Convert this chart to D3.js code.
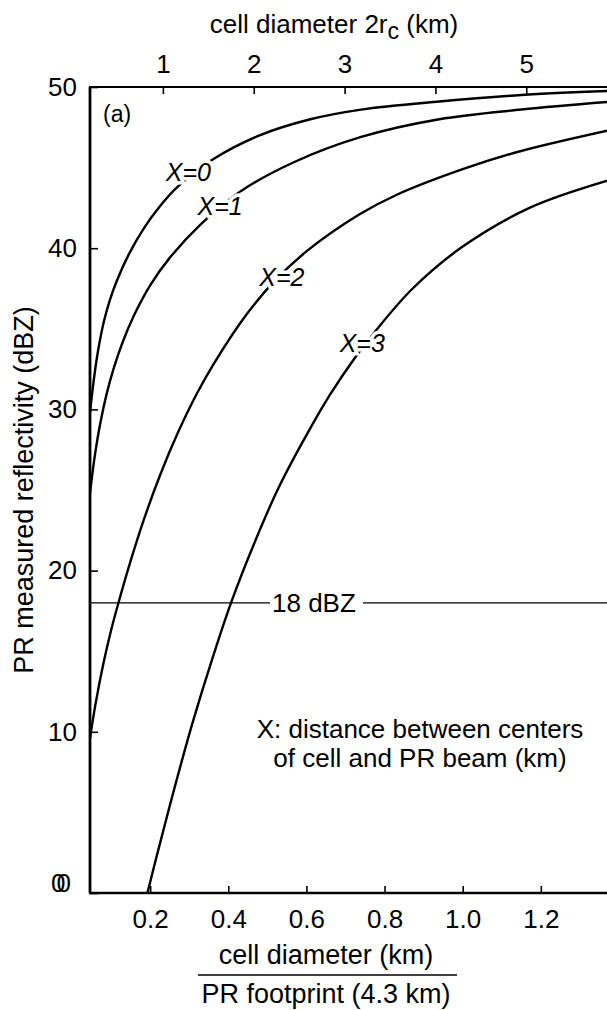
<!DOCTYPE html>
<html>
<head>
<meta charset="utf-8">
<script src="https://cdn.jsdelivr.net/npm/d3@7"></script>
<style>
  body { margin: 0; background: #fff; }
  svg { display: block; font-family: "Liberation Sans", Arial, Helvetica, sans-serif; }
</style>
</head>
<body>
<div id="chart"></div>
<script>
// cell diameter / PR footprint  vs  PR measured reflectivity (dBZ)
var ratioX0 = [0.046, 0.052, 0.06, 0.07, 0.082, 0.097, 0.115, 0.145, 0.183, 0.225, 0.27, 0.36, 0.48, 0.61, 0.74, 0.94, 1.15, 1.372];
var dbzX0   = [29.8, 31.1, 32.6, 34.1, 35.5, 36.8, 38.0, 39.6, 41.2, 42.6, 43.8, 45.5, 47.0, 48.0, 48.6, 49.1, 49.5, 49.75];

var ratioX1 = [0.046, 0.052, 0.06, 0.072, 0.088, 0.106, 0.13, 0.16, 0.2, 0.25, 0.33, 0.43, 0.565, 0.74, 0.94, 1.15, 1.372];
var dbzX1   = [24.8, 26.0, 27.4, 29.1, 30.9, 32.5, 34.2, 35.9, 37.7, 39.4, 41.5, 43.5, 45.3, 46.9, 48.0, 48.6, 49.07];

var ratioX2 = [0.046, 0.06, 0.08, 0.1, 0.12, 0.15, 0.183, 0.225, 0.27, 0.32, 0.362, 0.447, 0.52, 0.6, 0.736, 0.83, 1.0, 1.145, 1.372];
var dbzX2   = [9.6, 11.7, 14.2, 16.3, 18.1, 20.6, 23.1, 25.9, 28.5, 31.0, 32.8, 35.9, 38.0, 39.8, 42.1, 43.3, 44.9, 46.0, 47.3];

var ratioX3 = [0.193, 0.22, 0.249, 0.28, 0.309, 0.36, 0.407, 0.47, 0.53, 0.6, 0.66, 0.727, 0.778, 0.872, 1.0, 1.171, 1.372];
var dbzX3   = [0, 2.6, 5.3, 8.1, 10.6, 14.6, 18.0, 21.9, 25.2, 28.4, 30.9, 33.3, 34.9, 37.5, 40.1, 42.5, 44.2];

var curveNames = ["X=0", "X=1", "X=2", "X=3"];
// where each curve label sits (ratio, dBZ)
var labelRatio = [0.298, 0.379, 0.537, 0.743];
var labelDbz   = [44.7, 42.6, 38.2, 34.1];

var bottomTicks = [0.2, 0.4, 0.6, 0.8, 1.0, 1.2];
var topTicks = [1, 2, 3, 4, 5];
var leftTicks = [0, 10, 20, 30, 40, 50];
var footprintKm = 4.3;
var thresholdDbz = 18;

var width = 607, height = 1010;

var svg = d3.select("#chart").append("svg")
  .attr("width", width)
  .attr("height", height);

var x = d3.scaleLinear().domain([0.046, 1.372]).range([90, 608]);
var xTop = d3.scaleLinear().domain([0.046 * footprintKm, 1.372 * footprintKm]).range([90, 608]);
var y = d3.scaleLinear().domain([0, 50]).range([893, 87]);

svg.append("clipPath").attr("id", "plotClip")
  .append("rect")
  .attr("x", x.range()[0]).attr("y", y.range()[1])
  .attr("width", x.range()[1] - x.range()[0])
  .attr("height", y.range()[0] - y.range()[1]);

// ---- axes ----
function minorTicks(lo, hi, step) {
  var out = [];
  for (var v = lo; v <= hi + 1e-9; v += step) out.push(+v.toFixed(4));
  return out;
}

var gBottom = svg.append("g").attr("transform", "translate(0," + y(0) + ")");
gBottom.call(d3.axisBottom(x).tickValues(minorTicks(0.05, 1.35, 0.05)).tickSize(-3).tickFormat(""));
gBottom.call(d3.axisBottom(x).tickValues(bottomTicks).tickSize(-7).tickPadding(17).tickFormat(d3.format(".1f")));

var gTop = svg.append("g").attr("transform", "translate(0," + y(50) + ")");
gTop.call(d3.axisTop(xTop).tickValues(minorTicks(0.3, 5.8, 0.1)).tickSize(-3).tickFormat(""));
gTop.call(d3.axisTop(xTop).tickValues(topTicks).tickSize(-7).tickPadding(14).tickFormat(d3.format("d")));

var gLeft = svg.append("g").attr("transform", "translate(" + x(0.046) + ",0)");
gLeft.call(d3.axisLeft(y).tickValues(minorTicks(1, 49, 1)).tickSize(-4).tickFormat(""));
gLeft.call(d3.axisLeft(y).tickValues(leftTicks).tickSize(-8).tickPadding(13)
  .tickFormat(function (d) { return d === 0 ? "" : d; }));

svg.selectAll(".domain").remove();
svg.selectAll(".tick line").attr("stroke", "#000").attr("stroke-width", 1.6);
svg.selectAll(".tick text").attr("font-size", 26).attr("fill", "#000").attr("font-family", null);

// the doubled "0" at the origin, as in the scan
gLeft.append("text")
  .attr("x", -28)
  .attr("y", y(0) - 10)
  .attr("dy", "0.35em")
  .attr("font-size", 26)
  .attr("letter-spacing", "-9px")
  .attr("fill", "#000")
  .text("00");

// axis lines
svg.append("line").attr("x1", x(0.046)).attr("x2", x(0.046)).attr("y1", y(50)).attr("y2", y(0))
  .attr("stroke", "#000").attr("stroke-width", 2.8);
svg.append("line").attr("x1", x(0.046) - 1).attr("x2", width).attr("y1", y(0)).attr("y2", y(0))
  .attr("stroke", "#000").attr("stroke-width", 2.4);
svg.append("line").attr("x1", x(0.046) - 1).attr("x2", width).attr("y1", y(50)).attr("y2", y(50))
  .attr("stroke", "#000").attr("stroke-width", 2);

// ---- 18 dBZ reference ----
var ref = svg.append("g");
ref.append("line").attr("x1", x(0.046)).attr("x2", 270).attr("y1", y(thresholdDbz)).attr("y2", y(thresholdDbz))
  .attr("stroke", "#000").attr("stroke-width", 1.2);
ref.append("line").attr("x1", 363).attr("x2", width).attr("y1", y(thresholdDbz)).attr("y2", y(thresholdDbz))
  .attr("stroke", "#000").attr("stroke-width", 1.2);
ref.append("text").attr("x", 272).attr("y", y(thresholdDbz)).attr("dy", "0.36em")
  .attr("font-size", 26).text(thresholdDbz + " dBZ");

// ---- curves ----
var series = [
  ratioX0.map(function (r, i) { return [r, dbzX0[i]]; }),
  ratioX1.map(function (r, i) { return [r, dbzX1[i]]; }),
  ratioX2.map(function (r, i) { return [r, dbzX2[i]]; }),
  ratioX3.map(function (r, i) { return [r, dbzX3[i]]; })
];

var line = d3.line()
  .x(function (d) { return x(d[0]); })
  .y(function (d) { return y(d[1]); })
  .curve(d3.curveCatmullRom.alpha(0.5));

svg.append("g").attr("clip-path", "url(#plotClip)")
  .selectAll("path")
  .data(series)
  .enter()
  .append("path")
  .attr("d", line)
  .attr("fill", "none")
  .attr("stroke", "#000")
  .attr("stroke-width", 2.4);

// curve labels, white halo cuts the line like in the original
svg.append("g").selectAll("text")
  .data(curveNames)
  .enter()
  .append("text")
  .attr("x", function (d, i) { return x(labelRatio[i]); })
  .attr("y", function (d, i) { return y(labelDbz[i]); })
  .attr("dy", "0.36em")
  .attr("text-anchor", "middle")
  .attr("font-size", 25)
  .attr("font-style", "italic")
  .attr("stroke", "#fff")
  .attr("stroke-width", 7)
  .attr("paint-order", "stroke")
  .attr("fill", "#000")
  .text(function (d) { return d; });

// ---- texts ----
svg.append("text").attr("x", 103).attr("y", 122).attr("font-size", 23).text("(a)");

var note = svg.append("text").attr("text-anchor", "middle").attr("font-size", 26);
note.append("tspan").attr("x", 420).attr("y", 738).text("X: distance between centers");
note.append("tspan").attr("x", 420).attr("y", 767).text("of cell and PR beam (km)");

var topTitle = svg.append("text").attr("x", 334).attr("y", 33).attr("text-anchor", "middle").attr("font-size", 26);
topTitle.append("tspan").text("cell diameter 2r");
topTitle.append("tspan").attr("dy", 6).attr("font-size", 23).text("c");
topTitle.append("tspan").attr("dy", -6).text(" (km)");

svg.append("text").attr("x", 326).attr("y", 964).attr("text-anchor", "middle").attr("font-size", 27)
  .text("cell diameter (km)");
svg.append("line").attr("x1", 198).attr("x2", 457).attr("y1", 975).attr("y2", 975)
  .attr("stroke", "#000").attr("stroke-width", 1.5);
svg.append("text").attr("x", 326).attr("y", 1003).attr("text-anchor", "middle").attr("font-size", 27)
  .text("PR footprint (4.3 km)");

svg.append("text")
  .attr("transform", "translate(33," + ((y(0) + y(50)) / 2) + ") rotate(-90)")
  .attr("text-anchor", "middle")
  .attr("font-size", 27)
  .text("PR measured reflectivity (dBZ)");
</script>
</body>
</html>
